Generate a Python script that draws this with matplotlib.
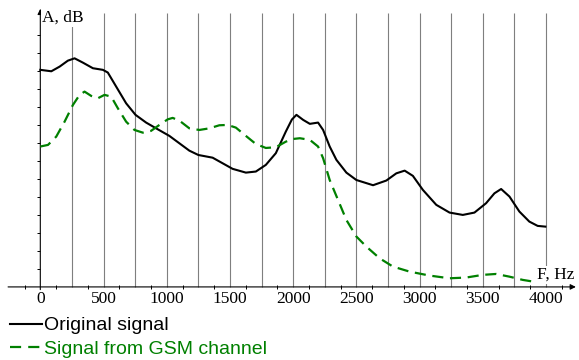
import matplotlib
matplotlib.use("Agg")
import matplotlib.pyplot as plt
from matplotlib.lines import Line2D

# Spectrum of the original signal (frequency in Hz, level in axis units)
orig_freq = [0, 87, 153, 218, 271, 337, 416, 495, 534, 600, 679, 753, 837,
             916, 1021, 1100, 1179, 1250, 1363, 1442, 1521, 1626, 1705, 1784,
             1863, 1942, 1990, 2026, 2079, 2132, 2197, 2237, 2289, 2342, 2421,
             2500, 2632, 2737, 2816, 2882, 2947, 3026, 3132, 3237, 3342, 3434,
             3526, 3592, 3645, 3711, 3789, 3868, 3934, 3995]
orig_level = [12.06, 11.98, 12.24, 12.57, 12.70, 12.46, 12.15, 12.06, 11.91,
              11.13, 10.20, 9.56, 9.13, 8.81, 8.39, 7.98, 7.57, 7.33, 7.18,
              6.87, 6.56, 6.35, 6.41, 6.78, 7.43, 8.63, 9.30, 9.56, 9.28, 9.06,
              9.13, 8.72, 7.80, 7.06, 6.35, 5.94, 5.65, 5.91, 6.31, 6.46, 6.17,
              5.39, 4.56, 4.13, 4.00, 4.13, 4.65, 5.20, 5.44, 5.02, 4.19, 3.63,
              3.39, 3.35]

# Spectrum after passing through the GSM channel
gsm_freq = [0, 61, 126, 192, 258, 311, 350, 403, 455, 508, 561, 613, 679,
            745, 811, 876, 942, 1008, 1047, 1100, 1179, 1258, 1337, 1416,
            1482, 1547, 1626, 1705, 1784, 1863, 1942, 2000, 2053, 2132, 2197,
            2237, 2289, 2355, 2421, 2500, 2579, 2684, 2789, 2921, 3079, 3237,
            3368, 3500, 3605, 3711, 3816, 3895, 3990]
gsm_level = [7.80, 7.89, 8.35, 9.18, 10.11, 10.67, 10.85, 10.61, 10.48, 10.67,
             10.57, 9.93, 9.18, 8.72, 8.57, 8.67, 9.00, 9.31, 9.39, 9.24, 8.81,
             8.72, 8.81, 8.98, 9.00, 8.85, 8.39, 7.94, 7.72, 7.76, 8.07, 8.22,
             8.26, 8.17, 7.80, 7.15, 5.94, 4.83, 3.72, 2.80, 2.24, 1.59, 1.13,
             0.85, 0.63, 0.48, 0.52, 0.67, 0.72, 0.57, 0.39, 0.30, 0.40]

tick_freqs = [0, 500, 1000, 1500, 2000, 2500, 3000, 3500, 4000]
grid_freqs = list(range(250, 4001, 250))
minor_freqs = list(range(-125, 4126, 250))
level_ticks = list(range(1, 15))

GREEN = "#008000"
SERIF = "Liberation Serif"

fig = plt.figure(figsize=(5.79, 3.6), dpi=100)
ax = fig.add_axes([0, 0, 1, 1])
ax.set_xlim(-318.8, 4261)
ax.set_ylim(-4.06, 15.94)
ax.axis("off")

# vertical grid
ax.vlines(grid_freqs, 0, 15.2, color="#7f7f7f", lw=0.8, zorder=1)

# axes with arrows
ax.annotate("", xy=(4236, 0), xytext=(-255, 0),
            arrowprops=dict(arrowstyle="-|>", mutation_scale=8,
                            lw=0.8, color="black", shrinkA=0, shrinkB=0))
ax.annotate("", xy=(0, 15.45), xytext=(0, -0.15),
            arrowprops=dict(arrowstyle="-|>", mutation_scale=8,
                            lw=0.8, color="black", shrinkA=0, shrinkB=0))

# small tick marks
ax.vlines(minor_freqs, -0.12, 0.12, color="black", lw=0.7)
ax.hlines(level_ticks, -24, 0, color="black", lw=0.7)

for f in tick_freqs:
    ax.text(f, -0.67, str(f), ha="center", va="center",
            fontsize=12.5, family=SERIF)

ax.text(13, 14.94, "A, dB", ha="left", va="center", fontsize=12.5,
        family=SERIF, zorder=5,
        bbox=dict(facecolor="white", edgecolor="none", pad=0.5))
ax.text(3930, 0.67, "F, Hz", ha="left", va="center", fontsize=12.5,
        family=SERIF, zorder=5,
        bbox=dict(facecolor="white", edgecolor="none", pad=0.5))

# curves
ax.plot(orig_freq, orig_level, color="black", lw=1.5, zorder=3,
        solid_joinstyle="round")
ax.plot(gsm_freq, gsm_level, color=GREEN, lw=1.6, dashes=(5, 3), zorder=3,
        dash_joinstyle="round")

handles = [
    Line2D([], [], color="black", lw=1.5),
    Line2D([], [], color=GREEN, lw=1.6, dashes=(5, 3.2)),
]
fig.legend(handles, ["Original signal", "Signal from GSM channel"],
           loc="upper left", bbox_to_anchor=(0.0173, 0.12),
           frameon=False, borderpad=0, borderaxespad=0,
           handlelength=1.65, handletextpad=0.12, labelspacing=0.32,
           labelcolor=["black", GREEN],
           prop={"family": "Liberation Sans", "size": 14})

fig.savefig("out.png", dpi=100)
